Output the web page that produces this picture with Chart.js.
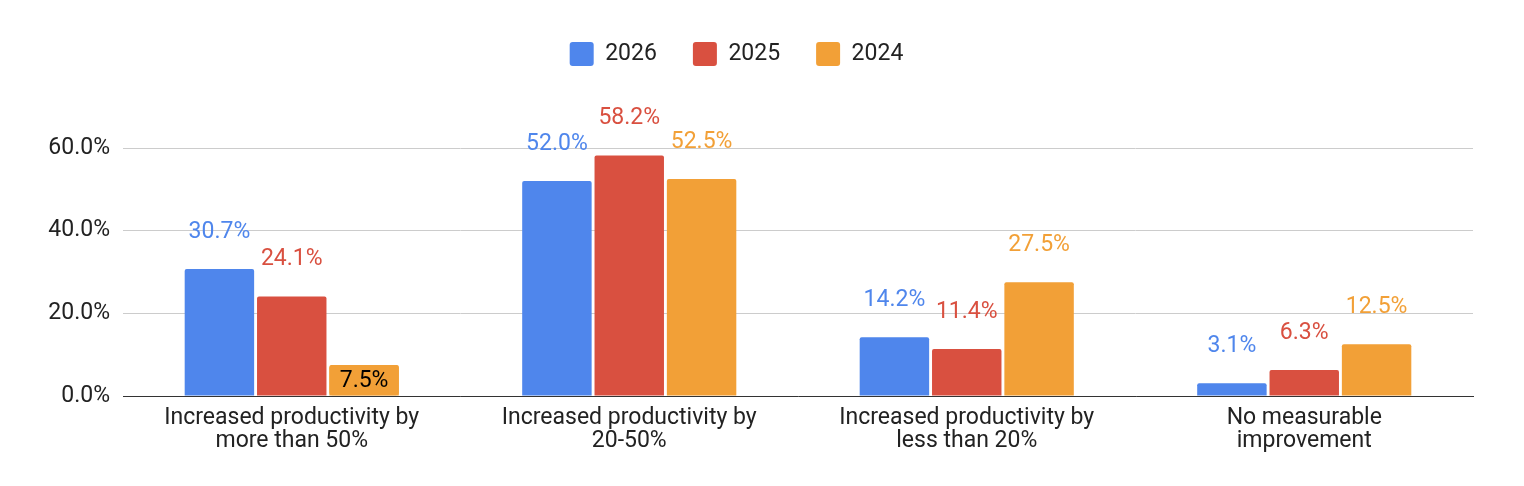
<!DOCTYPE html>
<html>
<head>
<meta charset="utf-8">
<script src="https://cdn.jsdelivr.net/npm/chart.js@4/dist/chart.umd.min.js"></script>
<style>
  html, body { margin: 0; padding: 0; background: #fff; }
  #wrap { width: 1524px; height: 486px; }
</style>
</head>
<body>
<div id="wrap"><canvas id="chart"></canvas></div>
<script>
// Data
const categories = [
    ['Increased productivity by', 'more than 50%'],
    ['Increased productivity by', '20-50%'],
    ['Increased productivity by', 'less than 20%'],
    ['No measurable', 'improvement']
];
const series2026 = [30.7, 52.0, 14.2, 3.1];
const series2025 = [24.1, 58.2, 11.4, 6.3];
const series2024 = [7.5, 52.5, 27.5, 12.5];
const yTicks = [0, 20, 40, 60];

const colors = ['#4f86ec', '#d95040', '#f2a037'];
const FONT = 'Roboto, Arial, sans-serif';
// labels drawn inside a filled box instead of above the bar: [dataset, index]
const boxedLabels = [[2, 0]];

// Draw value labels above bars
const valueLabels = {
    id: 'valueLabels',
    afterDatasetsDraw(chart) {
        const ctx = chart.ctx;
        ctx.save();
        ctx.font = '23px ' + FONT;
        ctx.textAlign = 'center';
        ctx.textBaseline = 'middle';
        chart.data.datasets.forEach((ds, di) => {
            chart.getDatasetMeta(di).data.forEach((bar, i) => {
                const text = ds.data[i].toFixed(1) + '%';
                const boxed = boxedLabels.some(b => b[0] === di && b[1] === i);
                if (boxed) {
                    const y = (bar.y + bar.base) / 2;
                    ctx.fillStyle = ds.backgroundColor;
                    ctx.beginPath();
                    ctx.roundRect(bar.x - bar.width / 2, y - 15, bar.width, 30, 3);
                    ctx.fill();
                    ctx.fillStyle = '#000';
                    ctx.fillText(text, bar.x, y + 1);
                } else {
                    ctx.fillStyle = ds.backgroundColor;
                    ctx.fillText(text, bar.x, bar.y - 37);
                }
            });
        });
        ctx.restore();
    }
};

new Chart(document.getElementById('chart'), {
    type: 'bar',
    data: {
        labels: categories,
        datasets: [
            { label: '2026', data: series2026, backgroundColor: colors[0] },
            { label: '2025', data: series2025, backgroundColor: colors[1] },
            { label: '2024', data: series2024, backgroundColor: colors[2] }
        ]
    },
    options: {
        responsive: true,
        maintainAspectRatio: false,
        animation: false,
        layout: { padding: { top: 6, right: 51, left: 0, bottom: 22 } },
        datasets: {
            bar: { categoryPercentage: 0.643, barPercentage: 0.96, borderRadius: 2 }
        },
        scales: {
            x: {
                afterBuildTicks(axis) {
                    // leave extra room at both ends like the original
                    axis.min = -0.17;
                    axis.max = 3.17;
                },
                grid: { display: false, drawTicks: false },
                border: { color: '#333', width: 1 },
                ticks: {
                    color: '#222',
                    font: { size: 23, family: FONT, lineHeight: 1.0 },
                    padding: 11,
                    maxRotation: 0
                }
            },
            y: {
                min: 0,
                max: 60,
                afterBuildTicks(axis) {
                    axis.ticks = yTicks.map(v => ({ value: v }));
                },
                afterFit(axis) { axis.width = 123; },
                grid: { color: '#cccccc', drawTicks: false },
                border: { display: false },
                ticks: {
                    color: '#222',
                    font: { size: 23, family: FONT },
                    padding: 13,
                    callback: v => v.toFixed(1) + '%'
                }
            }
        },
        plugins: {
            legend: {
                position: 'top',
                labels: {
                    color: '#222',
                    font: { size: 23, family: FONT },
                    boxWidth: 24,
                    boxHeight: 24,
                    useBorderRadius: true,
                    borderRadius: 3,
                    padding: 36
                }
            },
            tooltip: { enabled: false }
        }
    },
    plugins: [valueLabels, {
        id: 'legendSpace',
        beforeInit(chart) {
            const fit = chart.legend.fit;
            chart.legend.fit = function () {
                fit.call(this);
                this.height += 72;
            };
        }
    }]
});
</script>
</body>
</html>
